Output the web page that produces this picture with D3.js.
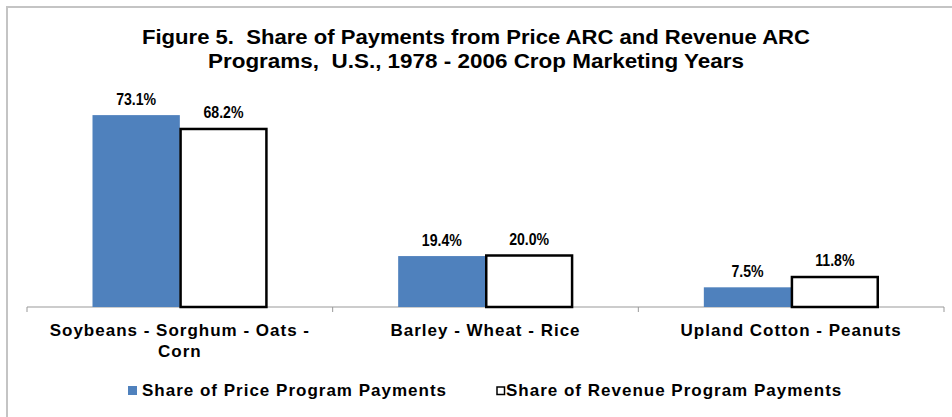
<!DOCTYPE html>
<html>
<head>
<meta charset="utf-8">
<script src="https://cdn.jsdelivr.net/npm/d3@7"></script>
<style>
  body { margin: 0; background: #fff; }
  svg { display: block; font-family: "Liberation Sans", Arial, sans-serif; }
  text { white-space: pre; }
</style>
</head>
<body>
<script>
const categories = [["Soybeans - Sorghum - Oats -", "Corn"], ["Barley - Wheat - Rice"], ["Upland Cotton - Peanuts"]];
const seriesNames = ["Share of Price Program Payments", "Share of Revenue Program Payments"];
const priceShare = [73.1, 19.4, 7.5];
const revenueShare = [68.2, 20.0, 11.8];
const titleLines = ["Figure 5.  Share of Payments from Price ARC and Revenue ARC", "Programs,  U.S., 1978 - 2006 Crop Marketing Years"];

const width = 952, height = 417;
const plot = {left: 27, right: 944, top: 97, bottom: 307};

const svg = d3.select("body").append("svg")
    .attr("width", width)
    .attr("height", height);

// chart frame
svg.append("rect")
    .attr("x", 7).attr("y", 7)
    .attr("width", width).attr("height", height)
    .attr("fill", "none")
    .attr("stroke", "#c4c4c4")
    .attr("stroke-width", 2);

const title = svg.append("text")
    .attr("text-anchor", "middle")
    .style("font-size", "20px")
    .style("font-weight", "bold")
    .attr("fill", "#000");
title.selectAll("tspan")
    .data(titleLines)
    .enter().append("tspan")
    .attr("x", 476)
    .attr("y", (d, i) => 44 + i * 24)
    .attr("textLength", (d, i) => i === 0 ? 668 : 536)
    .attr("lengthAdjust", "spacingAndGlyphs")
    .text(d => d);

const xScale = d3.scaleBand()
    .domain(d3.range(categories.length))
    .range([plot.left, plot.right])
    .paddingInner(0)
    .paddingOuter(0);

const yScale = d3.scaleLinear()
    .domain([0, 80])
    .range([plot.bottom, plot.top]);

const inner = d3.scaleBand()
    .domain([0, 1])
    .range([0, xScale.bandwidth()])
    .paddingInner(0)
    .paddingOuter(0.75);

// axis
const xAxis = d3.axisBottom(xScale).tickSize(0).tickFormat("");
const axisG = svg.append("g")
    .attr("transform", "translate(0," + plot.bottom + ")")
    .call(xAxis);
axisG.select(".domain").attr("stroke", "#999").attr("d", "M" + plot.left + ",5V0H" + plot.right + "V5");
axisG.selectAll(".tick").remove();
axisG.selectAll("line.sep")
    .data(d3.range(1, categories.length))
    .enter().append("line")
    .attr("x1", d => xScale(d)).attr("x2", d => xScale(d))
    .attr("y1", 0).attr("y2", 5)
    .attr("stroke", "#999");

const rows = categories.map((c, i) => ({i: i, vals: [priceShare[i], revenueShare[i]]}));

const groups = svg.selectAll("g.grp")
    .data(rows)
    .enter().append("g")
    .attr("class", "grp")
    .attr("transform", d => "translate(" + xScale(d.i) + ",0)");

groups.selectAll("rect")
    .data(d => d.vals.map((v, k) => ({v: v, k: k})))
    .enter().append("rect")
    .attr("x", d => inner(d.k) + (d.k === 1 ? 0.75 : 0))
    .attr("width", d => inner.bandwidth() - (d.k === 1 ? 1.5 : 0))
    .attr("y", d => yScale(d.v) + (d.k === 1 ? 1 : 0))
    .attr("height", d => yScale(0) - yScale(d.v) - (d.k === 1 ? 1 : 0))
    .attr("fill", d => d.k === 0 ? "#4f81bd" : "#fff")
    .attr("stroke", d => d.k === 0 ? "none" : "#000")
    .attr("stroke-width", 2.5);

groups.selectAll("text.val")
    .data(d => d.vals.map((v, k) => ({v: v, k: k})))
    .enter().append("text")
    .attr("class", "val")
    .attr("x", d => inner(d.k) + inner.bandwidth() / 2)
    .attr("y", d => yScale(d.v) - 10)
    .attr("text-anchor", "middle")
    .style("font-size", "17px")
    .style("font-weight", "bold")
    .text(d => d.v.toFixed(1) + "%")
    .each(function () {
        const w = this.getComputedTextLength();
        d3.select(this).attr("textLength", w * 0.83).attr("lengthAdjust", "spacingAndGlyphs");
    });

// category labels
svg.selectAll("text.cat")
    .data(rows)
    .enter().append("text")
    .attr("class", "cat")
    .attr("text-anchor", "middle")
    .style("font-size", "17px")
    .style("font-weight", "bold")
    .style("letter-spacing", "1px")
    .each(function (d) {
        d3.select(this).selectAll("tspan")
            .data(categories[d.i])
            .enter().append("tspan")
            .attr("x", xScale(d.i) + xScale.bandwidth() / 2)
            .attr("y", (t, j) => 336 + j * 21)
            .text(t => t);
    });

// legend
const legendX = [128, 496];
const legend = svg.selectAll("g.leg")
    .data(seriesNames)
    .enter().append("g")
    .attr("class", "leg")
    .attr("transform", (d, i) => "translate(" + legendX[i] + ",390)");
legend.append("rect")
    .attr("x", (d, i) => i === 0 ? 0 : 1)
    .attr("y", (d, i) => i === 0 ? -4 : -3)
    .attr("width", (d, i) => i === 0 ? 9 : 7.5)
    .attr("height", (d, i) => i === 0 ? 9 : 7.5)
    .attr("fill", (d, i) => i === 0 ? "#4f81bd" : "#fff")
    .attr("stroke", (d, i) => i === 0 ? "none" : "#000")
    .attr("stroke-width", 1.5);
legend.append("text")
    .attr("x", (d, i) => i === 0 ? 14 : 10)
    .attr("y", 6)
    .style("font-size", "17px")
    .style("font-weight", "bold")
    .style("letter-spacing", "1px")
    .text(d => d);
</script>
</body>
</html>
